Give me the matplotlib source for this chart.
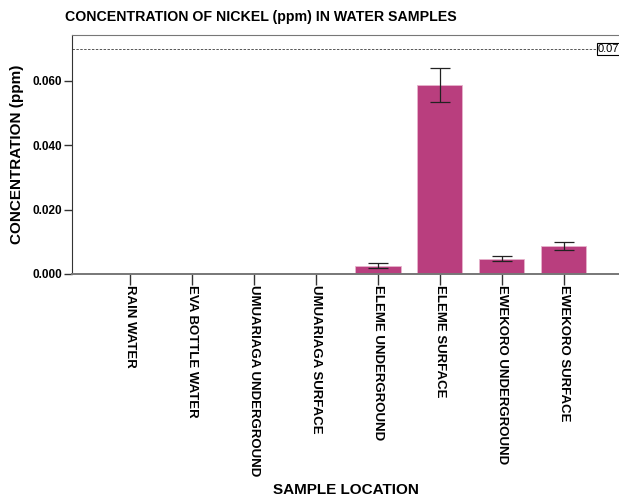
import numpy as np
import matplotlib.pyplot as plt

plt.rcParams['font.family'] = ['Liberation Sans', 'DejaVu Sans']

# Nickel concentration per sample location (ppm), mean and error half-width
locations = ['RAIN WATER', 'EVA BOTTLE WATER', 'UMUARIAGA UNDERGROUND',
             'UMUARIAGA SURFACE', 'ELEME UNDERGROUND', 'ELEME SURFACE',
             'EWEKORO UNDERGROUND', 'EWEKORO SURFACE']
conc = [0.0, 0.0, 0.0, 0.0, 0.0026, 0.0588, 0.0048, 0.0087]
err = [0.0, 0.0, 0.0, 0.0, 0.0008, 0.0052, 0.0007, 0.0011]
limit = 0.07
yticks = [0.000, 0.020, 0.040, 0.060]

barColor = '#b93e7e'

fig = plt.figure(figsize=(6.19, 5.0), dpi=100)
ax = fig.add_axes([0.1163, 0.452, 0.8885, 0.478])

x = np.arange(len(locations))
ax.bar(x, conc, width=0.73, color=barColor, edgecolor='#e6b3cc', linewidth=0.6, zorder=2)
mask = np.array(err) > 0
ax.errorbar(x[mask], np.array(conc)[mask], yerr=np.array(err)[mask], fmt='none',
            ecolor='#222222', elinewidth=0.9, capsize=7, capthick=0.9, zorder=3)

# reference level line with its value box at the right edge
ax.axhline(limit, color='#555555', linestyle=(0, (2.5, 1.5)), linewidth=0.7, zorder=1)
ax.text(0.956, limit, '0.07', transform=ax.get_yaxis_transform(), ha='left', va='center',
        fontsize=8, bbox=dict(boxstyle='square,pad=0.1', facecolor='white', edgecolor='black', linewidth=0.8),
        clip_on=False)

ax.set_xlim(-0.94, 7.94)
ax.set_ylim(0, 0.0743)
ax.set_yticks(yticks)
ax.set_yticklabels(['%.3f' % v for v in yticks], fontsize=8.5, fontweight='bold')
ax.set_xticks(x)
ax.set_xticklabels(locations, rotation=-90, fontsize=9.5, fontweight='bold', va='top')
ax.tick_params(axis='x', length=8, width=1, color='#333333', pad=0)
ax.tick_params(axis='y', length=6, width=1, color='#333333', pad=1)

ax.spines['right'].set_visible(False)
ax.spines['top'].set_color('#777777')
ax.spines['bottom'].set_color('#777777')
ax.spines['bottom'].set_linewidth(1.4)
ax.spines['left'].set_color('#333333')

ax.set_ylabel('CONCENTRATION (ppm)', fontsize=11, fontweight='bold', labelpad=6)
fig.text(0.422, 0.966, 'CONCENTRATION OF NICKEL (ppm) IN WATER SAMPLES', ha='center', va='center',
         fontsize=10.2, fontweight='bold')
fig.text(0.559, 0.02, 'SAMPLE LOCATION', ha='center', va='center', fontsize=11, fontweight='bold')

fig.savefig('out.png', dpi=100)
